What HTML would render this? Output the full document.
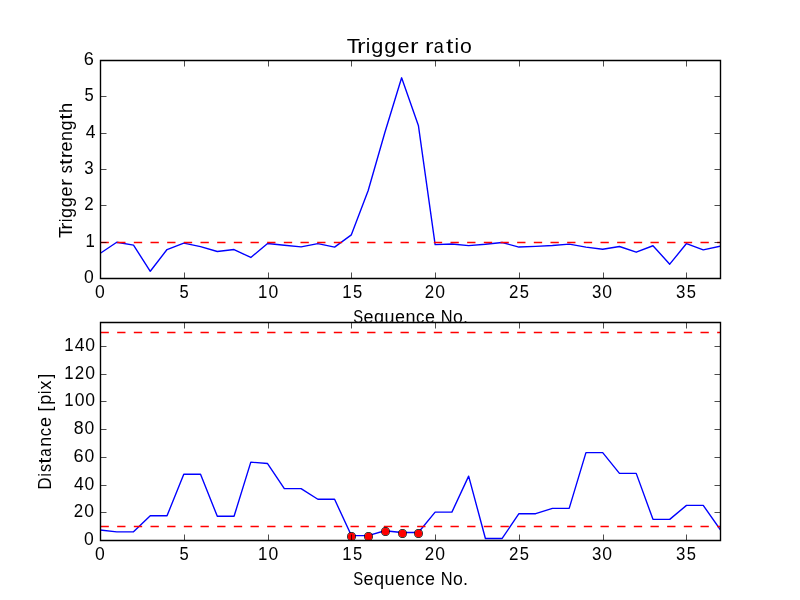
<!DOCTYPE html><html><head><meta charset="utf-8"><title>Trigger ratio</title><style>html,body{margin:0;padding:0;background:#fff;width:800px;height:600px;overflow:hidden}svg{display:block;will-change:transform}text{font-family:"Liberation Sans",sans-serif;fill:#000}</style></head><body>
<svg width="800" height="600" viewBox="0 0 800 600">
<rect width="800" height="600" fill="#fff"/>
<defs><clipPath id="c1"><rect x="100" y="60" width="620" height="218.18"/></clipPath>
<clipPath id="c2"><rect x="100" y="321.82" width="620" height="218.18"/></clipPath></defs>
<text y="53" font-size="20.3"><tspan x="346.70" textLength="13.325" lengthAdjust="spacingAndGlyphs">T</tspan><tspan x="356.90" textLength="8.533" lengthAdjust="spacingAndGlyphs">r</tspan><tspan x="365.72" textLength="4.542" lengthAdjust="spacingAndGlyphs">i</tspan><tspan x="371.22" textLength="12.089" lengthAdjust="spacingAndGlyphs">g</tspan><tspan x="384.32" textLength="12.089" lengthAdjust="spacingAndGlyphs">g</tspan><tspan x="397.41" textLength="12.014" lengthAdjust="spacingAndGlyphs">e</tspan><tspan x="410.00" textLength="8.533" lengthAdjust="spacingAndGlyphs">r</tspan><tspan x="418.66"> </tspan><tspan x="425.04" textLength="8.533" lengthAdjust="spacingAndGlyphs">r</tspan><tspan x="433.87" textLength="10.002" lengthAdjust="spacingAndGlyphs">a</tspan><tspan x="446.14" textLength="7.427" lengthAdjust="spacingAndGlyphs">t</tspan><tspan x="454.58" textLength="4.542" lengthAdjust="spacingAndGlyphs">i</tspan><tspan x="460.11" textLength="11.825" lengthAdjust="spacingAndGlyphs">o</tspan></text>
<rect x="100" y="60" width="620" height="218.18" fill="#fff"/>
<g clip-path="url(#c1)">
<polyline points="100.00,253.53 116.76,242.25 133.51,245.16 150.27,271.27 167.03,249.53 183.78,243.16 200.54,246.62 217.30,251.53 234.05,249.53 250.81,257.49 267.57,243.56 284.32,245.20 301.08,246.91 317.84,243.63 334.59,247.13 351.35,234.83 368.11,190.80 384.86,132.44 401.62,77.82 418.38,125.45 435.14,244.65 451.89,244.03 468.65,245.60 485.41,244.29 502.16,242.54 518.92,247.05 535.68,246.36 552.43,245.45 569.19,244.11 585.95,247.09 602.70,249.27 619.46,246.47 636.22,252.18 652.97,245.74 669.73,264.18 686.49,243.56 703.24,249.82 720.00,246.18" fill="none" stroke="#0000ff" stroke-width="1.39" stroke-linejoin="round" stroke-linecap="square"/>
<line x1="100.5" y1="242.50" x2="721" y2="242.50" stroke="#ff0000" stroke-width="1.39" stroke-dasharray="8.333 8.333"/>
</g>
<path d="M100.50 278.50V272.50M100.50 60.50V66.50M184.50 278.50V272.50M184.50 60.50V66.50M268.50 278.50V272.50M268.50 60.50V66.50M351.50 278.50V272.50M351.50 60.50V66.50M435.50 278.50V272.50M435.50 60.50V66.50M519.50 278.50V272.50M519.50 60.50V66.50M603.50 278.50V272.50M603.50 60.50V66.50M686.50 278.50V272.50M686.50 60.50V66.50M100.50 278.50H106.50M720.50 278.50H714.50M100.50 242.50H106.50M720.50 242.50H714.50M100.50 205.50H106.50M720.50 205.50H714.50M100.50 169.50H106.50M720.50 169.50H714.50M100.50 133.50H106.50M720.50 133.50H714.50M100.50 96.50H106.50M720.50 96.50H714.50M100.50 60.50H106.50M720.50 60.50H714.50" stroke="#000" stroke-width="0.7" fill="none"/>
<path d="M100.5 60.5H720.5V278.5H100.5Z" fill="none" stroke="#000" stroke-width="1.39" stroke-linejoin="miter"/>
<text y="298" font-size="17.6"><tspan x="95.11" textLength="9.771" lengthAdjust="spacingAndGlyphs">0</tspan></text>
<text y="298" font-size="17.6"><tspan x="179.41" textLength="9.222" lengthAdjust="spacingAndGlyphs">5</tspan></text>
<text y="298" font-size="17.6"><tspan x="258.09" textLength="9.332" lengthAdjust="spacingAndGlyphs">1</tspan><tspan x="268.55" textLength="9.771" lengthAdjust="spacingAndGlyphs">0</tspan></text>
<text y="298" font-size="17.6"><tspan x="342.26" textLength="9.332" lengthAdjust="spacingAndGlyphs">1</tspan><tspan x="352.93" textLength="9.222" lengthAdjust="spacingAndGlyphs">5</tspan></text>
<text y="298" font-size="17.6"><tspan x="424.71" textLength="9.418" lengthAdjust="spacingAndGlyphs">2</tspan><tspan x="435.36" textLength="9.771" lengthAdjust="spacingAndGlyphs">0</tspan></text>
<text y="298" font-size="17.6"><tspan x="508.88" textLength="9.418" lengthAdjust="spacingAndGlyphs">2</tspan><tspan x="519.74" textLength="9.222" lengthAdjust="spacingAndGlyphs">5</tspan></text>
<text y="298" font-size="17.6"><tspan x="591.94" textLength="9.384" lengthAdjust="spacingAndGlyphs">3</tspan><tspan x="602.33" textLength="9.771" lengthAdjust="spacingAndGlyphs">0</tspan></text>
<text y="298" font-size="17.6"><tspan x="676.12" textLength="9.384" lengthAdjust="spacingAndGlyphs">3</tspan><tspan x="686.72" textLength="9.222" lengthAdjust="spacingAndGlyphs">5</tspan></text>
<text y="283" font-size="17.6"><tspan x="84.11" textLength="9.771" lengthAdjust="spacingAndGlyphs">0</tspan></text>
<text y="247" font-size="17.6"><tspan x="85.60" textLength="9.332" lengthAdjust="spacingAndGlyphs">1</tspan></text>
<text y="210" font-size="17.6"><tspan x="84.29" textLength="9.418" lengthAdjust="spacingAndGlyphs">2</tspan></text>
<text y="174" font-size="17.6"><tspan x="84.36" textLength="9.384" lengthAdjust="spacingAndGlyphs">3</tspan></text>
<text y="138" font-size="17.6"><tspan x="85.67" textLength="9.772" lengthAdjust="spacingAndGlyphs">4</tspan></text>
<text y="101" font-size="17.6"><tspan x="84.41" textLength="9.222" lengthAdjust="spacingAndGlyphs">5</tspan></text>
<text y="65" font-size="17.6"><tspan x="83.88" textLength="10.113" lengthAdjust="spacingAndGlyphs">6</tspan></text>
<text y="323" font-size="17.6"><tspan x="353.33" textLength="9.910" lengthAdjust="spacingAndGlyphs">S</tspan><tspan x="363.64" textLength="10.012" lengthAdjust="spacingAndGlyphs">e</tspan><tspan x="373.90" textLength="10.064" lengthAdjust="spacingAndGlyphs">q</tspan><tspan x="384.57" textLength="9.994" lengthAdjust="spacingAndGlyphs">u</tspan><tspan x="395.04" textLength="10.012" lengthAdjust="spacingAndGlyphs">e</tspan><tspan x="405.46" textLength="9.994" lengthAdjust="spacingAndGlyphs">n</tspan><tspan x="415.92" textLength="8.362" lengthAdjust="spacingAndGlyphs">c</tspan><tspan x="425.03" textLength="10.012" lengthAdjust="spacingAndGlyphs">e</tspan><tspan x="435.33"> </tspan><tspan x="440.71" textLength="11.889" lengthAdjust="spacingAndGlyphs">N</tspan><tspan x="453.07" textLength="9.854" lengthAdjust="spacingAndGlyphs">o</tspan><tspan x="462.94" textLength="5.011" lengthAdjust="spacingAndGlyphs">.</tspan></text>
<text transform="translate(72,237.7) rotate(-90)" y="0" font-size="17.6"><tspan x="-0.33" textLength="11.104" lengthAdjust="spacingAndGlyphs">T</tspan><tspan x="8.07" textLength="7.111" lengthAdjust="spacingAndGlyphs">r</tspan><tspan x="15.33" textLength="3.785" lengthAdjust="spacingAndGlyphs">i</tspan><tspan x="19.81" textLength="10.075" lengthAdjust="spacingAndGlyphs">g</tspan><tspan x="30.55" textLength="10.075" lengthAdjust="spacingAndGlyphs">g</tspan><tspan x="41.30" textLength="10.012" lengthAdjust="spacingAndGlyphs">e</tspan><tspan x="51.64" textLength="7.111" lengthAdjust="spacingAndGlyphs">r</tspan><tspan x="58.69"> </tspan><tspan x="64.35" textLength="7.988" lengthAdjust="spacingAndGlyphs">s</tspan><tspan x="72.81" textLength="6.189" lengthAdjust="spacingAndGlyphs">t</tspan><tspan x="79.45" textLength="7.111" lengthAdjust="spacingAndGlyphs">r</tspan><tspan x="86.11" textLength="10.012" lengthAdjust="spacingAndGlyphs">e</tspan><tspan x="96.70" textLength="9.994" lengthAdjust="spacingAndGlyphs">n</tspan><tspan x="107.26" textLength="10.075" lengthAdjust="spacingAndGlyphs">g</tspan><tspan x="117.93" textLength="6.189" lengthAdjust="spacingAndGlyphs">t</tspan><tspan x="124.75" textLength="10.063" lengthAdjust="spacingAndGlyphs">h</tspan></text>
<rect x="100" y="321.82" width="620" height="218.18" fill="#fff"/>
<g clip-path="url(#c2)">
<polyline points="100.00,530.03 116.76,531.83 133.51,531.83 150.27,515.76 167.03,515.76 183.78,474.20 200.54,474.20 217.30,516.31 234.05,516.31 250.81,462.15 267.57,463.53 284.32,488.61 301.08,488.61 317.84,499.27 334.59,499.27 351.35,535.57 368.11,535.57 384.86,530.72 401.62,532.44 418.38,532.44 435.14,512.16 451.89,512.16 468.65,476.14 485.41,538.48 502.16,538.48 518.92,513.68 535.68,513.68 552.43,508.42 569.19,508.42 585.95,452.59 602.70,452.59 619.46,473.37 636.22,473.37 652.97,519.36 669.73,519.36 686.49,505.37 703.24,505.37 720.00,529.33" fill="none" stroke="#0000ff" stroke-width="1.39" stroke-linejoin="round" stroke-linecap="square"/>
<line x1="100.5" y1="526.50" x2="721" y2="526.50" stroke="#ff0000" stroke-width="1.39" stroke-dasharray="8.333 8.333"/>
<line x1="100.5" y1="332.50" x2="721" y2="332.50" stroke="#ff0000" stroke-width="1.39" stroke-dasharray="8.333 8.333"/>
<circle cx="351.50" cy="536.50" r="3.825" fill="#ff0000"/>
<path d="M346.985 536.500a4.515 4.515 0 1 0 9.030 0a4.515 4.515 0 1 0 -9.030 0ZM347.675 536.500a3.825 3.825 0 1 1 7.650 0a3.825 3.825 0 1 1 -7.650 0Z" fill="#000" fill-rule="evenodd"/>
<circle cx="368.50" cy="536.50" r="3.825" fill="#ff0000"/>
<path d="M363.985 536.500a4.515 4.515 0 1 0 9.030 0a4.515 4.515 0 1 0 -9.030 0ZM364.675 536.500a3.825 3.825 0 1 1 7.650 0a3.825 3.825 0 1 1 -7.650 0Z" fill="#000" fill-rule="evenodd"/>
<circle cx="385.50" cy="531.50" r="3.825" fill="#ff0000"/>
<path d="M380.985 531.500a4.515 4.515 0 1 0 9.030 0a4.515 4.515 0 1 0 -9.030 0ZM381.675 531.500a3.825 3.825 0 1 1 7.650 0a3.825 3.825 0 1 1 -7.650 0Z" fill="#000" fill-rule="evenodd"/>
<circle cx="402.50" cy="533.50" r="3.825" fill="#ff0000"/>
<path d="M397.985 533.500a4.515 4.515 0 1 0 9.030 0a4.515 4.515 0 1 0 -9.030 0ZM398.675 533.500a3.825 3.825 0 1 1 7.650 0a3.825 3.825 0 1 1 -7.650 0Z" fill="#000" fill-rule="evenodd"/>
<circle cx="418.50" cy="533.50" r="3.825" fill="#ff0000"/>
<path d="M413.985 533.500a4.515 4.515 0 1 0 9.030 0a4.515 4.515 0 1 0 -9.030 0ZM414.675 533.500a3.825 3.825 0 1 1 7.650 0a3.825 3.825 0 1 1 -7.650 0Z" fill="#000" fill-rule="evenodd"/>
</g>
<path d="M100.50 540.50V534.50M100.50 322.50V328.50M184.50 540.50V534.50M184.50 322.50V328.50M268.50 540.50V534.50M268.50 322.50V328.50M351.50 540.50V534.50M351.50 322.50V328.50M435.50 540.50V534.50M435.50 322.50V328.50M519.50 540.50V534.50M519.50 322.50V328.50M603.50 540.50V534.50M603.50 322.50V328.50M686.50 540.50V534.50M686.50 322.50V328.50M100.50 540.50H106.50M720.50 540.50H714.50M100.50 512.50H106.50M720.50 512.50H714.50M100.50 485.50H106.50M720.50 485.50H714.50M100.50 457.50H106.50M720.50 457.50H714.50M100.50 429.50H106.50M720.50 429.50H714.50M100.50 401.50H106.50M720.50 401.50H714.50M100.50 374.50H106.50M720.50 374.50H714.50M100.50 346.50H106.50M720.50 346.50H714.50" stroke="#000" stroke-width="0.7" fill="none"/>
<path d="M100.5 322.5H720.5V540.5H100.5Z" fill="none" stroke="#000" stroke-width="1.39" stroke-linejoin="miter"/>
<text y="560" font-size="17.6"><tspan x="95.11" textLength="9.771" lengthAdjust="spacingAndGlyphs">0</tspan></text>
<text y="560" font-size="17.6"><tspan x="179.41" textLength="9.222" lengthAdjust="spacingAndGlyphs">5</tspan></text>
<text y="560" font-size="17.6"><tspan x="258.09" textLength="9.332" lengthAdjust="spacingAndGlyphs">1</tspan><tspan x="268.55" textLength="9.771" lengthAdjust="spacingAndGlyphs">0</tspan></text>
<text y="560" font-size="17.6"><tspan x="342.26" textLength="9.332" lengthAdjust="spacingAndGlyphs">1</tspan><tspan x="352.93" textLength="9.222" lengthAdjust="spacingAndGlyphs">5</tspan></text>
<text y="560" font-size="17.6"><tspan x="424.71" textLength="9.418" lengthAdjust="spacingAndGlyphs">2</tspan><tspan x="435.36" textLength="9.771" lengthAdjust="spacingAndGlyphs">0</tspan></text>
<text y="560" font-size="17.6"><tspan x="508.88" textLength="9.418" lengthAdjust="spacingAndGlyphs">2</tspan><tspan x="519.74" textLength="9.222" lengthAdjust="spacingAndGlyphs">5</tspan></text>
<text y="560" font-size="17.6"><tspan x="591.94" textLength="9.384" lengthAdjust="spacingAndGlyphs">3</tspan><tspan x="602.33" textLength="9.771" lengthAdjust="spacingAndGlyphs">0</tspan></text>
<text y="560" font-size="17.6"><tspan x="676.12" textLength="9.384" lengthAdjust="spacingAndGlyphs">3</tspan><tspan x="686.72" textLength="9.222" lengthAdjust="spacingAndGlyphs">5</tspan></text>
<text y="545" font-size="17.6"><tspan x="84.11" textLength="9.771" lengthAdjust="spacingAndGlyphs">0</tspan></text>
<text y="517" font-size="17.6"><tspan x="73.71" textLength="9.418" lengthAdjust="spacingAndGlyphs">2</tspan><tspan x="84.36" textLength="9.771" lengthAdjust="spacingAndGlyphs">0</tspan></text>
<text y="490" font-size="17.6"><tspan x="73.95" textLength="9.772" lengthAdjust="spacingAndGlyphs">4</tspan><tspan x="84.56" textLength="9.771" lengthAdjust="spacingAndGlyphs">0</tspan></text>
<text y="462" font-size="17.6"><tspan x="73.61" textLength="10.113" lengthAdjust="spacingAndGlyphs">6</tspan><tspan x="84.38" textLength="9.771" lengthAdjust="spacingAndGlyphs">0</tspan></text>
<text y="434" font-size="17.6"><tspan x="73.74" textLength="9.877" lengthAdjust="spacingAndGlyphs">8</tspan><tspan x="84.40" textLength="9.771" lengthAdjust="spacingAndGlyphs">0</tspan></text>
<text y="406" font-size="17.6"><tspan x="64.28" textLength="9.332" lengthAdjust="spacingAndGlyphs">1</tspan><tspan x="74.75" textLength="9.771" lengthAdjust="spacingAndGlyphs">0</tspan><tspan x="85.35" textLength="9.771" lengthAdjust="spacingAndGlyphs">0</tspan></text>
<text y="379" font-size="17.6"><tspan x="64.28" textLength="9.332" lengthAdjust="spacingAndGlyphs">1</tspan><tspan x="74.70" textLength="9.418" lengthAdjust="spacingAndGlyphs">2</tspan><tspan x="85.35" textLength="9.771" lengthAdjust="spacingAndGlyphs">0</tspan></text>
<text y="351" font-size="17.6"><tspan x="64.28" textLength="9.332" lengthAdjust="spacingAndGlyphs">1</tspan><tspan x="74.75" textLength="9.772" lengthAdjust="spacingAndGlyphs">4</tspan><tspan x="85.35" textLength="9.771" lengthAdjust="spacingAndGlyphs">0</tspan></text>
<text y="585" font-size="17.6"><tspan x="353.33" textLength="9.910" lengthAdjust="spacingAndGlyphs">S</tspan><tspan x="363.64" textLength="10.012" lengthAdjust="spacingAndGlyphs">e</tspan><tspan x="373.90" textLength="10.064" lengthAdjust="spacingAndGlyphs">q</tspan><tspan x="384.57" textLength="9.994" lengthAdjust="spacingAndGlyphs">u</tspan><tspan x="395.04" textLength="10.012" lengthAdjust="spacingAndGlyphs">e</tspan><tspan x="405.46" textLength="9.994" lengthAdjust="spacingAndGlyphs">n</tspan><tspan x="415.92" textLength="8.362" lengthAdjust="spacingAndGlyphs">c</tspan><tspan x="425.03" textLength="10.012" lengthAdjust="spacingAndGlyphs">e</tspan><tspan x="435.33"> </tspan><tspan x="440.71" textLength="11.889" lengthAdjust="spacingAndGlyphs">N</tspan><tspan x="453.07" textLength="9.854" lengthAdjust="spacingAndGlyphs">o</tspan><tspan x="462.94" textLength="5.011" lengthAdjust="spacingAndGlyphs">.</tspan></text>
<text transform="translate(51,488.3) rotate(-90)" y="0" font-size="17.6"><tspan x="-1.41" textLength="12.453" lengthAdjust="spacingAndGlyphs">D</tspan><tspan x="11.64" textLength="3.785" lengthAdjust="spacingAndGlyphs">i</tspan><tspan x="16.31" textLength="7.988" lengthAdjust="spacingAndGlyphs">s</tspan><tspan x="24.65" textLength="6.189" lengthAdjust="spacingAndGlyphs">t</tspan><tspan x="31.45" textLength="8.335" lengthAdjust="spacingAndGlyphs">a</tspan><tspan x="41.63" textLength="9.994" lengthAdjust="spacingAndGlyphs">n</tspan><tspan x="52.09" textLength="8.362" lengthAdjust="spacingAndGlyphs">c</tspan><tspan x="61.21" textLength="10.012" lengthAdjust="spacingAndGlyphs">e</tspan><tspan x="71.52"> </tspan><tspan x="76.81" textLength="4.824" lengthAdjust="spacingAndGlyphs">[</tspan><tspan x="83.48" textLength="10.085" lengthAdjust="spacingAndGlyphs">p</tspan><tspan x="94.15" textLength="3.785" lengthAdjust="spacingAndGlyphs">i</tspan><tspan x="98.63" textLength="9.244" lengthAdjust="spacingAndGlyphs">x</tspan><tspan x="109.71" textLength="4.824" lengthAdjust="spacingAndGlyphs">]</tspan></text>
</svg></body></html>
